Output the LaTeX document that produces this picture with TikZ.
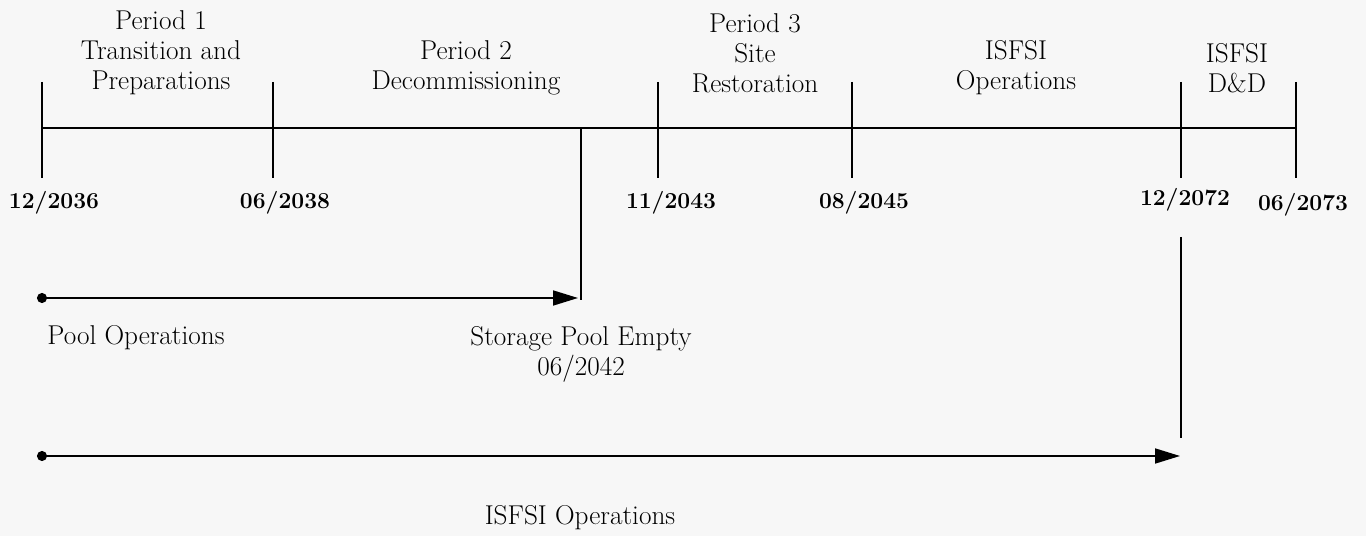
\documentclass[tikz,border=0pt]{standalone}
\usepackage{tikz}
\usetikzlibrary{arrows.meta,positioning}

\definecolor{paper}{RGB}{247,247,247}
\tikzset{
  period/.style={align=center,font=\fontsize{15.5}{17}\selectfont},
  datelbl/.style={font=\fontsize{13}{17}\selectfont\bfseries},
  spanlbl/.style={align=center,font=\fontsize{15.5}{17}\selectfont},
  tickline/.style={line width=1.1pt},
  spanline/.style={line width=1pt,{Circle[length=2mm]}-{Triangle[length=5mm,width=3mm]}}
}

\begin{document}
\begin{tikzpicture}[x=0.02cm,y=-0.02cm]
\fill[paper] (0,0) rectangle (1366,536);
\useasboundingbox (0,0) rectangle (1366,536);

% time axis
\coordinate (t1) at (42,128);
\coordinate (t2) at (273,128);
\coordinate (t3) at (658,128);
\coordinate (t4) at (852,128);
\coordinate (t5) at (1181,128);
\coordinate (t6) at (1296,128);
\draw[tickline] (t1) -- (t6);
\draw[tickline] (42,82) -- (42,178);
\draw[tickline] (273,82) -- (273,178);
\draw[tickline] (658,82) -- (658,178);
\draw[tickline] (852,82) -- (852,178);
\draw[tickline] (1181,82) -- (1181,178);
\draw[tickline] (1296,82) -- (1296,178);

% periods
\node[period] (per1) at (161,53) {Period 1\\Transition and\\Preparations};
\node[period] (per2) at (466,68) {Period 2\\Decommissioning};
\node[period] (per3) at (755,53) {Period 3\\Site\\Restoration};
\node[period] (isfsiop) at (1016,68) {ISFSI\\Operations};
\node[period] (isfsidd) at (1237,68) {ISFSI\\D\&D};

% dates
\node[datelbl] (d1) at (54,203) {12/2036};
\node[datelbl] (d2) at (285,203) {06/2038};
\node[datelbl] (d3) at (671,203) {11/2043};
\node[datelbl] (d4) at (864,203) {08/2045};
\node[datelbl] (d5) at (1185,200) {12/2072};
\node[datelbl] (d6) at (1303,205) {06/2073};

% pool operations
\coordinate (pe) at (581,128);
\coordinate (pebot) at (581,300);
\draw[line width=1pt] (pe) -- (pebot);
\coordinate (p0) at (37,298);
\coordinate (p1) at (578,298);
\draw[spanline] (p0) -- (p1);
\node[spanlbl] (poolop) at (136,338) {Pool Operations};
\node[spanlbl] (poolempty) at (581,354) {Storage Pool Empty\\06/2042};

% ISFSI operations
\coordinate (ie) at (1181,237);
\coordinate (iebot) at (1181,438);
\draw[line width=1pt] (ie) -- (iebot);
\coordinate (i0) at (37,456);
\coordinate (i1) at (1180,456);
\draw[spanline] (i0) -- (i1);
\node[spanlbl] (isfsispan) at (580,518) {ISFSI Operations};
\end{tikzpicture}
\end{document}
